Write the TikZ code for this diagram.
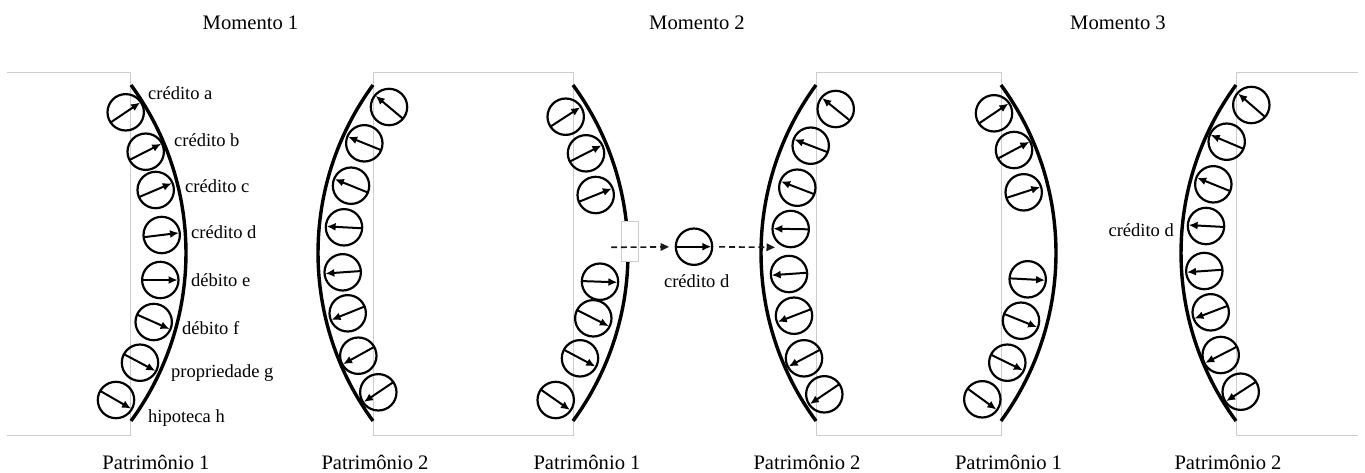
\documentclass[tikz,border=0pt]{standalone}
\usepackage{fontspec}
\setmainfont{Liberation Serif}
\usetikzlibrary{arrows.meta}

\definecolor{framegray}{RGB}{205,205,205}
\definecolor{flowgray}{RGB}{25,25,25}

\tikzset{
  disc/.style={circle, draw=black, line width=2.2pt, minimum size=36.4pt,
    inner sep=0pt, outer sep=0pt},
  spin/.style={line width=2pt, -{Latex[length=9pt,width=8pt]}, shorten >=0.8pt},
  rim/.style={line width=3.4pt},
  frame/.style={draw=framegray, line width=0.9pt},
  gapbox/.style={draw=framegray, fill=white, line width=0.9pt},
  flow/.style={line width=1.6pt, draw=flowgray, dash pattern=on 6pt off 3.8pt,
    -{Triangle[length=8.5pt,width=7.5pt]}},
  lbl/.style={font=\fontsize{18.5}{22}\selectfont, inner sep=0pt},
  ttl/.style={font=\fontsize{20.6}{24}\selectfont, inner sep=0pt, anchor=base},
}

% a disc with its arrow: name, x, y, direction of the arrow (degrees)
\newcommand\spindisc[4]{%
  \node[disc] (#1) at (#2,#3) {};
  \pgfmathtruncatemacro\tipang{mod(#4+360,360)}%
  \pgfmathtruncatemacro\tailang{mod(#4+540,360)}%
  \draw[spin] (#1.\tailang) -- (#1.\tipang);
}

\begin{document}
\begin{tikzpicture}[x=1pt,y=-1pt]
\useasboundingbox (0,0) rectangle (1365,472);

% frames behind the six holdings
\draw[frame] (7,72) -- (130,72) -- (130,435) -- (7,435);
\draw[frame] (373,72) rectangle (573,435);
\draw[frame] (816,72) rectangle (1001,435);
\draw[frame] (1358,72) -- (1236,72) -- (1236,435) -- (1358,435);

% titles
\node[ttl] (t1) at (250.5,29.3) {Momento 1};
\node[ttl] (t2) at (697,29.3) {Momento 2};
\node[ttl] (t3) at (1118,29.3) {Momento 3};

% rims of the holdings
\draw[rim] (131,85) arc[start angle=-36.25, end angle=36.25, radius=284.1];
\draw[rim] (373,85) arc[start angle=216.25, end angle=143.75, radius=284.1];
\draw[rim] (573,85) arc[start angle=-36.25, end angle=36.25, radius=284.1];
\draw[rim] (816,85) arc[start angle=216.25, end angle=143.75, radius=284.1];
\draw[rim] (1001,85) arc[start angle=-36.25, end angle=36.25, radius=284.1];
\draw[rim] (1236,85) arc[start angle=216.25, end angle=143.75, radius=284.1];

% Momento 1, Patrimônio 1
\spindisc{a1}{125.7}{112.3}{34}
\spindisc{a2}{145.7}{151.7}{27}
\spindisc{a3}{155.7}{190}{23}
\spindisc{a4}{161.7}{235}{7}
\spindisc{a5}{160.3}{280}{0}
\spindisc{a6}{153.7}{322}{-24}
\spindisc{a7}{140}{362.7}{-28}
\spindisc{a8}{116}{400}{-30}
\node[lbl, anchor=base west] (la) at (148,99.3) {crédito a};
\node[lbl, anchor=base west] (lb) at (174,146) {crédito b};
\node[lbl, anchor=base west] (lc) at (185,192) {crédito c};
\node[lbl, anchor=base west] (ld) at (191,238) {crédito d};
\node[lbl, anchor=base west] (le) at (191,286) {débito e};
\node[lbl, anchor=base west] (lf) at (182,334) {débito f};
\node[lbl, anchor=base west] (lg) at (171,377.6) {propriedade g};
\node[lbl, anchor=base west] (lh) at (148,422.6) {hipoteca h};

% Momento 1, Patrimônio 2
\spindisc{b1}{389}{107}{140}
\spindisc{b2}{364.3}{143.3}{158}
\spindisc{b3}{351}{185.7}{158}
\spindisc{b4}{344}{227.3}{177}
\spindisc{b5}{342.7}{272.3}{184}
\spindisc{b6}{347.7}{313.3}{202}
\spindisc{b7}{358.3}{355.7}{209}
\spindisc{b8}{378.3}{392.3}{214}

% Momento 2, Patrimônio 1
\spindisc{c1}{565.7}{116.7}{33}
\spindisc{c2}{586}{153.3}{27}
\spindisc{c3}{595.7}{195}{22}
\spindisc{c5}{600}{281.7}{-2}
\spindisc{c6}{593.3}{318.3}{-27}
\spindisc{c7}{580}{358.3}{-28}
\spindisc{c8}{555.7}{400}{-35}
\node[gapbox] (gap) at (630,241.7) [minimum width=16.6pt, minimum height=40pt, inner sep=0pt] {};

% the transferred credit
\spindisc{m}{694}{246.7}{0}
\node[lbl, anchor=base] (lm) at (696.7,287.7) {crédito d};
\coordinate (src) at (611,247.3);
\coordinate (dst) at (775,247.3);
\draw[flow, shorten >=6.7pt] (src) -- (m);
\draw[flow, shorten <=7pt] (m) -- (dst);

% Momento 2, Patrimônio 2
\spindisc{d1}{835.7}{109}{141}
\spindisc{d2}{810.7}{145.7}{159}
\spindisc{d3}{797.3}{187.7}{159}
\spindisc{d4}{790.7}{229}{179}
\spindisc{d5}{789}{274}{184}
\spindisc{d6}{794}{315.7}{201}
\spindisc{d7}{804}{358.3}{208}
\spindisc{d8}{824.3}{394.3}{214}

% Momento 3, Patrimônio 1
\spindisc{e1}{994}{113.3}{34}
\spindisc{e2}{1014}{150}{28}
\spindisc{e3}{1023.7}{192.3}{18}
\spindisc{e5}{1027.7}{279.3}{-3}
\spindisc{e6}{1021}{320.7}{-22}
\spindisc{e7}{1007.3}{362.7}{-26}
\spindisc{e8}{982.3}{399.3}{-36}

% Momento 3, Patrimônio 2
\spindisc{f1}{1251.3}{105}{139}
\spindisc{f2}{1226.7}{141.7}{157}
\spindisc{f3}{1213.3}{184.3}{158}
\spindisc{f4}{1206}{226}{177}
\spindisc{f5}{1204.3}{271}{184}
\spindisc{f6}{1210.7}{312.3}{201}
\spindisc{f7}{1220.7}{355}{207}
\spindisc{f8}{1240.7}{391.7}{213}
\node[lbl, anchor=base east] (lf4) at (1174,236.7) {crédito d};

% captions
\node[ttl] (p1) at (156,469.5) {Patrimônio 1};
\node[ttl] (p2) at (375,469.5) {Patrimônio 2};
\node[ttl] (p3) at (587,469.5) {Patrimônio 1};
\node[ttl] (p4) at (807,469.5) {Patrimônio 2};
\node[ttl] (p5) at (1008.5,469.5) {Patrimônio 1};
\node[ttl] (p6) at (1228,469.5) {Patrimônio 2};
\end{tikzpicture}
\end{document}
